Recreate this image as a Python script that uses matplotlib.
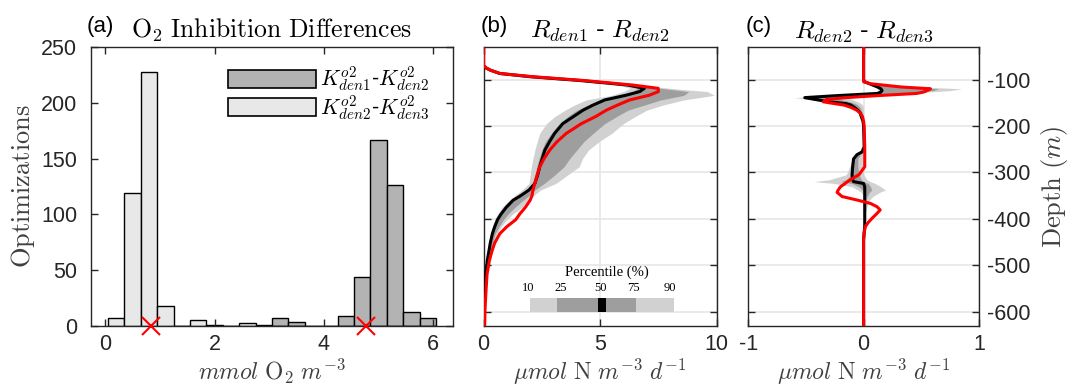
import matplotlib
matplotlib.use("Agg")
import matplotlib.pyplot as plt
from matplotlib.patches import Rectangle

plt.rcParams["mathtext.fontset"] = "cm"
plt.rcParams["font.family"] = ["Liberation Sans", "DejaVu Sans"]
plt.rcParams["axes.unicode_minus"] = False

# (a) histogram of O2 inhibition differences, bins 0.3 wide
bin_centers = [0.2, 0.5, 0.8, 1.1, 1.4, 1.7, 2.0, 2.3, 2.6, 2.9,
               3.2, 3.5, 3.8, 4.1, 4.4, 4.7, 5.0, 5.3, 5.6, 5.9]
k12_counts = [0, 0, 0, 0, 0, 0, 0, 0, 0, 0,
              7, 4, 0, 0, 9, 44, 167, 126, 13, 7]
k23_counts = [7, 119, 228, 18, 0, 5, 1, 0, 3, 1,
              0, 0, 0, 0, 0, 0, 0, 0, 0, 0]
best_k = [0.84, 4.77]

# (b) Rden1 - Rden2 profiles
depth_b = [-30, -70, -75, -80, -87, -94, -102, -112, -119, -126, -134, -144,
           -155, -166, -180, -195, -216, -234, -252, -270, -288, -306, -324,
           -338, -350, -360, -375, -390, -402, -417, -432, -452, -470, -490,
           -520, -560, -600, -631]
median_b = [0, 0, 0.1, 0.3, 0.7, 2.0, 4.1, 6.2, 6.9, 6.7, 6.1, 5.2,
            4.7, 4.27, 3.85, 3.4, 3.05, 2.83, 2.63, 2.52, 2.41, 2.32, 2.2,
            1.95, 1.6, 1.27, 0.98, 0.75, 0.6, 0.48, 0.38, 0.29, 0.23, 0.16,
            0.1, 0.05, 0.03, 0.02]
best_b = [0, 0, 0.12, 0.3, 0.7, 2.12, 4.27, 6.42, 7.49, 7.5, 7.1, 6.27,
          5.75, 5.27, 4.8, 4.2, 3.55, 3.15, 2.84, 2.6, 2.41, 2.3, 2.2,
          2.12, 2.08, 2.0, 1.8, 1.55, 1.38, 1.0, 0.7, 0.48, 0.36, 0.25,
          0.15, 0.1, 0.06, 0.05]
p10_b = [0, 0, 0.1, 0.28, 0.65, 1.9, 3.9, 5.8, 6.3, 6.0, 5.5, 4.4,
         3.9, 3.5, 3.05, 2.7, 2.41, 2.3, 2.2, 2.12, 2.05, 2.0, 1.95,
         1.65, 1.35, 1.1, 0.8, 0.6, 0.48, 0.38, 0.3, 0.22, 0.17, 0.12,
         0.07, 0.04, 0.02, 0.01]
p25_b = [0, 0, 0.1, 0.3, 0.7, 2.0, 4.0, 6.0, 6.6, 6.4, 5.9, 5.0,
         4.5, 4.0, 3.6, 3.25, 2.9, 2.65, 2.5, 2.38, 2.28, 2.2, 2.1,
         1.85, 1.55, 1.3, 0.95, 0.72, 0.58, 0.46, 0.36, 0.27, 0.2, 0.14,
         0.09, 0.05, 0.03, 0.02]
p75_b = [0, 0, 0.12, 0.32, 0.72, 2.1, 4.3, 6.5, 7.6, 8.8, 8.6, 7.6,
         6.9, 6.2, 5.7, 5.2, 4.7, 4.3, 4.0, 3.7, 3.45, 3.05, 2.6,
         2.2, 1.95, 1.7, 1.35, 1.05, 0.85, 0.66, 0.5, 0.38, 0.3, 0.2,
         0.13, 0.07, 0.04, 0.03]
p90_b = [0, 0, 0.12, 0.33, 0.75, 2.15, 4.4, 6.8, 8.0, 9.6, 9.9, 8.6,
         7.7, 7.0, 6.5, 6.0, 5.5, 4.95, 4.5, 4.25, 4.1, 3.6, 3.1,
         2.45, 2.15, 1.95, 1.65, 1.25, 1.0, 0.75, 0.58, 0.42, 0.33, 0.24,
         0.15, 0.08, 0.05, 0.04]

# (c) Rden2 - Rden3 profiles
depth_c = [-30, -100, -105, -109, -116, -120, -124, -127, -130, -135, -139,
           -143, -148, -152, -155, -160, -166, -172, -180, -190, -200, -245,
           -256, -262, -271, -288, -305, -316, -320, -324, -331, -338, -343,
           -352, -360, -367, -374, -381, -390, -399, -408, -417, -430, -445,
           -631]
median_c = [0, 0, 0.01, 0.05, 0.12, 0.15, 0.16, 0.15, 0.12, -0.25, -0.51,
            -0.42, -0.3, -0.15, -0.11, -0.08, -0.05, -0.03, -0.02, -0.005, 0, 0.005,
            -0.014, -0.058, -0.087, -0.095, -0.1, -0.095, -0.087, 0, 0.01, 0.01, 0.01,
            0.01, 0.01, 0.01, 0.01, 0.01, 0.01, 0.01, 0.01, 0.01, 0.005, 0,
            0]
best_c = [0, 0, 0, 0.06, 0.32, 0.58, 0.55, 0.52, 0.46, 0.1, -0.15,
          -0.32, -0.35, -0.25, -0.17, -0.11, -0.06, -0.03, -0.01, 0, 0.005, 0.01,
          0.01, 0.01, 0.01, 0.01, -0.04, -0.115, -0.14, -0.16, -0.2, -0.22, -0.23,
          -0.187, -0.05, 0.06, 0.116, 0.144, 0.11, 0.073, 0.04, 0.015, 0.005, 0,
          0]
p10_c = [0, 0, 0, 0.04, 0.1, 0.12, 0.13, 0.1, 0.0, -0.35, -0.6,
         -0.45, -0.32, -0.2, -0.14, -0.1, -0.06, -0.035, -0.02, -0.01, 0, 0,
         -0.02, -0.07, -0.1, -0.12, -0.15, -0.3, -0.43, -0.25, -0.1, -0.05, -0.02,
         0, 0, 0, 0, 0, 0, 0, 0, 0, 0, 0,
         0]
p25_c = [0, 0, 0, 0.05, 0.12, 0.14, 0.15, 0.13, 0.08, -0.28, -0.5,
         -0.4, -0.28, -0.16, -0.12, -0.08, -0.05, -0.03, -0.015, -0.005, 0, 0,
         -0.015, -0.06, -0.09, -0.1, -0.11, -0.15, -0.2, -0.1, -0.04, -0.01, 0,
         0, 0, 0, 0, 0, 0, 0, 0, 0, 0, 0,
         0]
p75_c = [0, 0, 0.01, 0.1, 0.35, 0.65, 0.6, 0.45, 0.25, -0.15, -0.3,
         -0.2, -0.12, -0.07, -0.05, -0.03, -0.02, -0.01, 0, 0, 0, 0.005,
         0, -0.03, -0.05, -0.05, -0.04, -0.02, 0, 0.04, 0.06, 0.07, 0.05,
         0.03, 0.02, 0.02, 0.01, 0.01, 0.01, 0.01, 0.01, 0.01, 0.005, 0,
         0]
p90_c = [0, 0, 0.02, 0.15, 0.5, 0.85, 0.75, 0.55, 0.3, -0.05, -0.15,
         -0.1, -0.05, -0.02, -0.01, 0, 0, 0, 0, 0, 0, 0.01,
         0.005, 0, -0.01, -0.01, 0, 0.03, 0.06, 0.1, 0.15, 0.19, 0.14,
         0.08, 0.05, 0.04, 0.03, 0.02, 0.015, 0.01, 0.01, 0.01, 0.005, 0,
         0]

depth_ticks = [-600, -500, -400, -300, -200, -100]
percentile_labels = ["10", "25", "50", "75", "90"]

LIGHT = "0.82"
DARK = "0.62"
AXCOL = "0.15"
TICK_FS = 15.5
LABEL_FS = 17


def style_axes(ax):
    for s in ax.spines.values():
        s.set_color(AXCOL)
        s.set_linewidth(1.0)
    ax.tick_params(direction="in", length=5, width=1.0, colors=AXCOL,
                   labelsize=TICK_FS, top=True, right=True)
    ax.tick_params(axis="x", pad=6)
    ax.tick_params(axis="y", pad=10)


def profile_panel(ax, depth, p10, p25, p75, p90, median, best):
    ax.fill_betweenx(depth, p10, p90, color=LIGHT, lw=0, zorder=2)
    ax.fill_betweenx(depth, p25, p75, color=DARK, lw=0, zorder=3)
    ax.plot(median, depth, color="k", lw=2.2, zorder=4)
    ax.plot(best, depth, color="red", lw=2.2, zorder=5)
    ax.set_ylim(-631, -30)
    ax.set_yticks(depth_ticks)
    ax.grid(True, color="0.9", lw=1.2, zorder=0)
    ax.set_axisbelow(True)
    style_axes(ax)


fig = plt.figure(figsize=(10.7, 3.86), dpi=100)
ax_a = fig.add_axes([0.085, 0.1554, 0.3383, 0.7228])
ax_b = fig.add_axes([0.4519, 0.1554, 0.2179, 0.7228])
ax_c = fig.add_axes([0.6993, 0.1554, 0.2156, 0.7228])

# (a) histograms
ax_a.bar(bin_centers, k12_counts, width=0.3, color="0.7", edgecolor="k", lw=1.0,
         label=r"$K^{o2}_{den1}$-$K^{o2}_{den2}$")
ax_a.bar(bin_centers, k23_counts, width=0.3, color="0.91", edgecolor="k", lw=1.0,
         label=r"$K^{o2}_{den2}$-$K^{o2}_{den3}$")
ax_a.plot(best_k, [0] * len(best_k), "x", color="red", ms=13, mew=1.5,
          clip_on=False, zorder=6)
ax_a.set_xlim(-0.26, 6.36)
ax_a.set_ylim(0, 250)
ax_a.set_xticks([0, 2, 4, 6])
ax_a.set_yticks([0, 50, 100, 150, 200, 250])
style_axes(ax_a)
ax_a.set_xlabel(r"$mmol\ \mathrm{O_2}\ m^{-3}$", fontsize=LABEL_FS, color="0.25")
ax_a.set_ylabel(r"$\mathrm{Optimizations}$", fontsize=19, color="0.25", labelpad=3)
ax_a.set_title(r"$\mathrm{O_2\ Inhibition\ Differences}$", fontsize=18.5, pad=7)
leg = ax_a.legend(loc="upper right", bbox_to_anchor=(0.975, 0.99), frameon=False,
                  fontsize=15.5, handlelength=4.1, handleheight=0.9,
                  labelspacing=-0.05, handletextpad=0.15, borderpad=0.2)
for p in leg.get_patches():
    p.set_linewidth(1.2)

# (b)
profile_panel(ax_b, depth_b, p10_b, p25_b, p75_b, p90_b, median_b, best_b)
ax_b.set_xlim(0, 10)
ax_b.set_xticks([0, 5, 10])
ax_b.set_yticklabels([])
ax_b.set_xlabel(r"$\mu mol\ \mathrm{N}\ m^{-3}\ d^{-1}$", fontsize=LABEL_FS, color="0.25")
ax_b.set_title(r"$R_{den1}$ - $R_{den2}$", fontsize=18.5, pad=7)

# percentile key inside (b)
seg_edges = [0.199, 0.314, 0.492, 0.525, 0.653, 0.817]
seg_cols = [LIGHT, DARK, "k", DARK, LIGHT]
for x0, x1, c in zip(seg_edges[:-1], seg_edges[1:], seg_cols):
    ax_b.add_patch(Rectangle((x0, 0.051), x1 - x0, 0.048, transform=ax_b.transAxes,
                             color=c, lw=0, zorder=6))
label_x = [0.192, 0.332, 0.502, 0.642, 0.80]
for lx, lab in zip(label_x, percentile_labels):
    ax_b.text(lx, 0.113, lab, transform=ax_b.transAxes, ha="center", va="bottom",
              fontsize=9, family="Liberation Serif", zorder=6)
ax_b.text(0.528, 0.17, "Percentile (%)", transform=ax_b.transAxes, ha="center",
          va="bottom", fontsize=10.5, family="Liberation Serif", zorder=6)

# (c)
profile_panel(ax_c, depth_c, p10_c, p25_c, p75_c, p90_c, median_c, best_c)
ax_c.set_xlim(-1, 1)
ax_c.set_xticks([-1, 0, 1])
ax_c.yaxis.tick_right()
ax_c.tick_params(left=True, right=True, labelleft=False, labelright=True)
ax_c.tick_params(axis="y", pad=6)
ax_c.yaxis.set_label_position("right")
ax_c.set_ylabel(r"$\mathrm{Depth}\ (m)$", fontsize=19, color="0.25", labelpad=6)
ax_c.set_xlabel(r"$\mu mol\ \mathrm{N}\ m^{-3}\ d^{-1}$", fontsize=LABEL_FS, color="0.25")
ax_c.set_title(r"$R_{den2}$ - $R_{den3}$", fontsize=18.5, pad=7)

# x labels sit just under the tick labels, near the bottom edge
for ax in (ax_a, ax_b, ax_c):
    ax.xaxis.set_label_coords(0.5, -0.11)

# panel letters
for ax, letter in [(ax_a, "(a)"), (ax_b, "(b)"), (ax_c, "(c)")]:
    ax.text(-0.012, 1.035, letter, transform=ax.transAxes, ha="left", va="bottom",
            fontsize=16, color="k")

fig.savefig("out.png", dpi=100)
